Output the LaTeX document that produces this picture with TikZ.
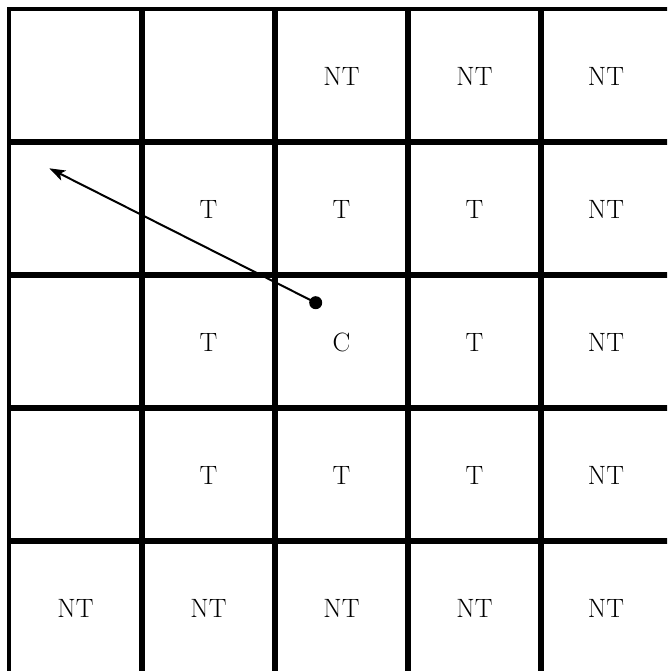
\documentclass[tikz,border=0pt]{standalone}
\usetikzlibrary{arrows.meta}
\begin{document}
\begin{tikzpicture}[x=1pt,y=-1pt,
  gridline/.style={line width=5.5pt},
  edgeline/.style={line width=4.5pt},
  cell/.style={font=\fontsize{26.5}{30}\selectfont, inner sep=0pt},
  agent/.style={circle, fill=black, inner sep=0pt, minimum size=13pt},
  move/.style={line width=2pt, -{Stealth[length=16pt,width=11pt,inset=4pt]}}]
\useasboundingbox (0,0) rectangle (667,671);
\begin{scope}
\clip (0,0) rectangle (667,671);
% outer edges
\draw[edgeline] (9,690) -- (9,9) -- (690,9);
% inner lines
\foreach \k in {142,275,408,541} {
  \draw[gridline] (\k,9) -- (\k,690);
  \draw[gridline] (9,\k) -- (690,\k);
}
\end{scope}
% cell labels
\node[cell] (c13) at (341.5,76) {NT};
\node[cell] (c14) at (474.5,76) {NT};
\node[cell] (c15) at (606,76) {NT};
\node[cell] (c22) at (208.5,209) {T};
\node[cell] (c23) at (341.5,209) {T};
\node[cell] (c24) at (474.5,209) {T};
\node[cell] (c25) at (606,209) {NT};
\node[cell] (c32) at (208.5,342) {T};
\node[cell] (c33) at (341.5,342) {C};
\node[cell] (c34) at (474.5,342) {T};
\node[cell] (c35) at (606,342) {NT};
\node[cell] (c42) at (208.5,475) {T};
\node[cell] (c43) at (341.5,475) {T};
\node[cell] (c44) at (474.5,475) {T};
\node[cell] (c45) at (606,475) {NT};
\node[cell] (c51) at (75.5,608) {NT};
\node[cell] (c52) at (208.5,608) {NT};
\node[cell] (c53) at (341.5,608) {NT};
\node[cell] (c54) at (474.5,608) {NT};
\node[cell] (c55) at (606,608) {NT};
% agent and move
\node[agent] (dot) at (315.7,302.7) {};
\coordinate (tip) at (49.3,168.3);
\draw[move] (dot.center) -- (tip);
\end{tikzpicture}
\end{document}
